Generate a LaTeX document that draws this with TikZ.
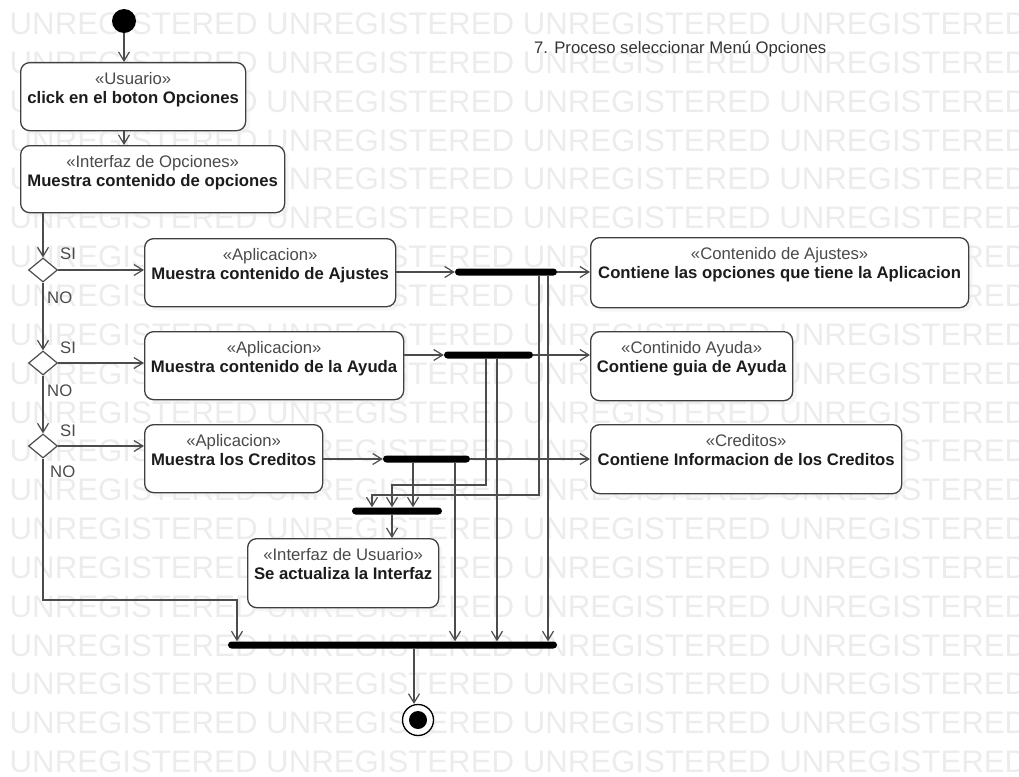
\documentclass[tikz,border=0pt]{standalone}
\usepackage{fontspec}
\setmainfont{Liberation Sans}
\usetikzlibrary{arrows.meta,shapes.geometric,shadows}

\definecolor{edge}{HTML}{4C4C4C}
\definecolor{frame}{HTML}{404040}
\definecolor{stereo}{HTML}{4A4A4A}
\definecolor{ink}{HTML}{1C1C1C}
\definecolor{wmark}{HTML}{ECECEC}

\newcommand{\umlfont}{\fontsize{16.7pt}{19pt}\selectfont}
\newcommand{\stereo}[1]{{\color{stereo}«#1»}}

\tikzset{
  actbox/.style={draw=frame, line width=1.3pt, rounded corners=9pt, fill=white,
    inner sep=0pt, anchor=north west,
    drop shadow={shadow xshift=4pt, shadow yshift=-4pt, fill=black!7, draw=none}},
  acttext/.style={anchor=north, align=center, inner sep=0pt, font=\umlfont, text=ink},
  guard/.style={anchor=base west, inner sep=0pt, font=\umlfont, text=stereo},
  flow/.style={draw=edge, line width=1.2pt, -{Straight Barb[length=9pt,width=11pt]}},
  bar/.style={fill=black, rounded corners=3.5pt, minimum height=7pt, inner sep=0pt},
  decision/.style={diamond, draw=edge, fill=white, line width=1.2pt,
    minimum width=29pt, minimum height=24pt, inner sep=0pt},
}

\begin{document}
\begin{tikzpicture}[x=1pt, y=-1pt]
\useasboundingbox (0,0) rectangle (1019,776);

% background lettering
\begin{scope}
  \clip (0,0) rectangle (1019,776);
  \foreach \k in {0,...,19} {
    \node[anchor=base west, inner sep=0pt, text=wmark,
          font=\fontsize{31.2pt}{31.2pt}\selectfont] (wm\k) at (9.5,{34.5+38.85*\k})
      {UNREGISTERED UNREGISTERED UNREGISTERED UNREGISTERED};
  }
\end{scope}

% title
\node[anchor=base west, inner sep=0pt, font=\umlfont, text=ink!90] (title) at (534,53)
  {7. Proceso seleccionar Menú Opciones};

% initial and final states
\node[circle, fill=black, minimum size=24pt, inner sep=0pt] (start) at (124,21) {};
\node[circle, draw=black, line width=1.3pt, fill=white, minimum size=31pt, inner sep=0pt,
      drop shadow={shadow xshift=3pt, shadow yshift=-3pt, fill=black!7, draw=none},
      path picture={\fill[black] (path picture bounding box.center) circle (9pt);}]
  (end) at (418,720) {};

% actions
\node[actbox, minimum width=225pt, minimum height=68pt] (b1) at (20,62) {};
\node[acttext] (b1t) at ([yshift=-10pt]b1.north) {\stereo{Usuario}\\\textbf{click en el boton Opciones}};

\node[actbox, minimum width=264pt, minimum height=67pt] (b2) at (20,145) {};
\node[acttext] (b2t) at ([yshift=-10pt]b2.north) {\stereo{Interfaz de Opciones}\\\textbf{Muestra contenido de opciones}};

\node[actbox, minimum width=251pt, minimum height=68pt] (aj) at (144,238) {};
\node[acttext] (ajt) at ([yshift=-10pt]aj.north) {\stereo{Aplicacion}\\\textbf{Muestra contenido de Ajustes}};

\node[actbox, minimum width=259pt, minimum height=68pt] (ay) at (144,331) {};
\node[acttext] (ayt) at ([yshift=-10pt]ay.north) {\stereo{Aplicacion}\\\textbf{Muestra contenido de la Ayuda}};

\node[actbox, minimum width=178pt, minimum height=68pt] (cr) at (144,424) {};
\node[acttext] (crt) at ([yshift=-10pt]cr.north) {\stereo{Aplicacion}\\\textbf{Muestra los Creditos}};

\node[actbox, minimum width=378pt, minimum height=70pt] (ca) at (590,237) {};
\node[acttext] (cat) at ([yshift=-10pt]ca.north) {\stereo{Contenido de Ajustes}\\\textbf{Contiene las opciones que tiene la Aplicacion}};

\node[actbox, minimum width=202pt, minimum height=69pt] (cy) at (590,331) {};
\node[acttext] (cyt) at ([yshift=-10pt]cy.north) {\stereo{Continido Ayuda}\\\textbf{Contiene guia de Ayuda}};

\node[actbox, minimum width=311pt, minimum height=69pt] (cc) at (590,424) {};
\node[acttext] (cct) at ([yshift=-10pt]cc.north) {\stereo{Creditos}\\\textbf{Contiene Informacion de los Creditos}};

\node[actbox, minimum width=191pt, minimum height=69pt] (iu) at (247,538) {};
\node[acttext] (iut) at ([yshift=-10pt]iu.north) {\stereo{Interfaz de Usuario}\\\textbf{Se actualiza la Interfaz}};

% decisions
\node[decision] (d1) at (43,270) {};
\node[decision] (d2) at (43,363) {};
\node[decision] (d3) at (43,446) {};

\node[guard] (si1) at (60,259) {SI};
\node[guard] (no1) at (47,303) {NO};
\node[guard] (si2) at (60,353) {SI};
\node[guard] (no2) at (47,396) {NO};
\node[guard] (si3) at (60,436) {SI};
\node[guard] (no3) at (50,477) {NO};

% fork / join bars
\node[bar, minimum width=102pt] (bar1) at (506,272) {};
\node[bar, minimum width=89pt]  (bar2) at (488.5,355) {};
\node[bar, minimum width=87pt]  (bar3) at (426.5,459) {};
\node[bar, minimum width=90pt]  (bar4) at (397,511) {};
\node[bar, minimum width=329pt] (join) at (392.5,645) {};

% routing points
\coordinate (t1a) at (539,0);
\coordinate (t1b) at (548,0);
\coordinate (t2a) at (486,0);
\coordinate (t2b) at (497,0);
\coordinate (t3a) at (413,0);
\coordinate (t3b) at (455,0);
\coordinate (m1) at (372,495);
\coordinate (m2) at (392,485);
\coordinate (skip) at (237,600);
\coordinate (xe) at (414,0);

% main sequence
\draw[flow] (start) -- (b1.north -| start);
\draw[flow] (b1.south -| start) -- (b2.north -| start);
\draw[flow] (b2.south -| d1) -- (d1.north);
\draw[flow] (d1.south) -- (d2.north);
\draw[flow] (d2.south) -- (d3.north);
\draw[flow] (d3.south) |- (skip) -- (skip |- join.north);

% branches
\draw[flow] (d1.east) -- (d1.east -| aj.west);
\draw[flow] (d2.east) -- (d2.east -| ay.west);
\draw[flow] (d3.east) -- (d3.east -| cr.west);

\draw[flow] (aj.east |- bar1) -- (bar1.west);
\draw[flow] (ay.east |- bar2) -- (bar2.west);
\draw[flow] (cr.east |- bar3) -- (bar3.west);

\draw[flow] (bar1.east) -- (bar1.east -| ca.west);
\draw[flow] (bar2.east) -- (bar2.east -| cy.west);
\draw[flow] (bar3.east) -- (bar3.east -| cc.west);

% forks towards the interface update
\draw[flow] (bar1.south -| t1a) |- (m1) -- (m1 |- bar4.north);
\draw[flow] (bar2.south -| t2a) |- (m2) -- (m2 |- bar4.north);
\draw[flow] (bar3.south -| t3a) -- (bar4.north -| t3a);
\draw[flow] (bar4.south -| m2) -- (iu.north -| m2);

% forks towards the final join
\draw[flow] (bar1.south -| t1b) -- (join.north -| t1b);
\draw[flow] (bar2.south -| t2b) -- (join.north -| t2b);
\draw[flow] (bar3.south -| t3b) -- (join.north -| t3b);

\draw[flow] (join.south -| xe) -- (xe |- end.north);
\end{tikzpicture}
\end{document}
